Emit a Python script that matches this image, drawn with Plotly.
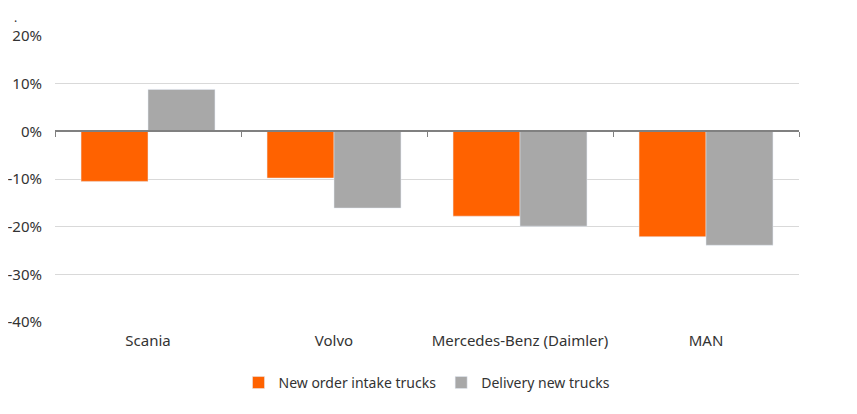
import plotly.graph_objects as go

# 数据
brands = ['Scania', 'Volvo', 'Mercedes-Benz (Daimler)', 'MAN']
new_orders = [-10.5, -9.8, -17.8, -22.1]
deliveries = [8.8, -16.1, -19.9, -23.9]
y_ticks = [20, 10, 0, -10, -20, -30, -40]
y_labels = ['20%', '10%', '0%', '-10%', '-20%', '-30%', '-40%']

ORANGE = '#FF6200'
GREY = '#A8A8A8'
FONT = 'Noto Sans'

fig = go.Figure()
fig.add_trace(go.Bar(x=brands, y=new_orders, name='New order intake trucks',
                     marker_color=ORANGE))
fig.add_trace(go.Bar(x=brands, y=deliveries, name='Delivery new trucks',
                     marker_color=GREY))
# 空轨迹，让零线处的刻度轴显示出来
fig.add_trace(go.Scatter(x=[], y=[], xaxis='x2', showlegend=False,
                         hoverinfo='skip'))

# 页面 body 有 8px 默认边距，边距按此扣除
fig.update_layout(
    width=857, height=414,
    margin=dict(l=47, r=66, t=28, b=100, autoexpand=False),
    paper_bgcolor='white', plot_bgcolor='white',
    font=dict(family=FONT, size=15, color='#333333'),
    barmode='group', bargap=0.28, bargroupgap=0,
    showlegend=True,
    legend=dict(orientation='h', x=0.5, xanchor='center', y=-0.213,
                yanchor='middle', font=dict(size=14), itemwidth=30,
                tracegroupgap=0),
    xaxis=dict(showline=False, showgrid=False, ticks='', ticklabelstandoff=8,
               automargin=False),
    # 零线处的分类边界刻度
    xaxis2=dict(overlaying='x', anchor='free', position=40 / 60,
                range=[-0.5, 3.5], tickvals=[-0.5, 0.5, 1.5, 2.5, 3.5],
                showticklabels=False, ticks='outside', ticklen=5,
                tickcolor='#808080', showline=True, linecolor='#808080',
                linewidth=1.5, showgrid=False, zeroline=False,
                automargin=False),
    yaxis=dict(range=[-40, 20], tickvals=y_ticks, ticktext=y_labels,
               showgrid=True, gridcolor='#D9D9D9', gridwidth=1,
               zeroline=False, showline=False, ticklabelstandoff=12,
               automargin=False),
)

fig.add_annotation(text='.', x=-0.057, y=1.098, yanchor='top', borderpad=0,
                   xref='paper', yref='paper', showarrow=False,
                   font=dict(size=12, color='#333333'))

fig.write_html('out.html')
